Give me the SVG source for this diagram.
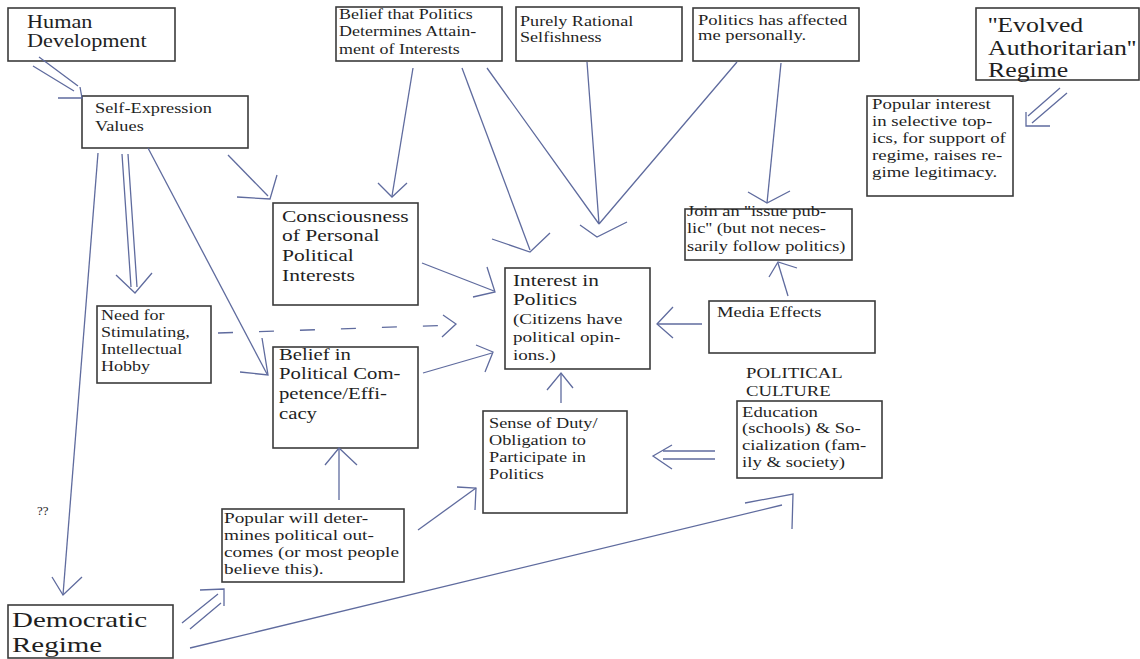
<svg xmlns="http://www.w3.org/2000/svg" width="1140" height="659" viewBox="0 0 1140 659">
<style>
.box{fill:#fff;stroke:#3b3b3b;stroke-width:1.6}
.t{font-family:"Liberation Serif","Times New Roman",serif;fill:#1f1f1f}
.ln{stroke:#5f6b9e;stroke-width:1.3;fill:none}
.hd{stroke:#5f6b9e;stroke-width:1.3;fill:none}
.dash{stroke-dasharray:15 26}
</style>
<rect width="1140" height="659" fill="#fff"/>
<g id="nodes">
<g id="human-development"><rect class="box" x="8" y="8" width="167" height="53"/>
<text class="t" font-size="19" transform="translate(27 28) scale(1.17 1)"><tspan x="0" y="0">Human</tspan><tspan x="0" y="19.5">Development</tspan></text></g>
<g id="self-expression"><rect class="box" x="82" y="96" width="166" height="52"/>
<text class="t" font-size="15" transform="translate(95 113) scale(1.22 1)"><tspan x="0" y="0">Self-Expression</tspan><tspan x="0" y="18.5">Values</tspan></text></g>
<g id="belief-politics"><rect class="box" x="336" y="7" width="166" height="54"/>
<text class="t" font-size="14.5" transform="translate(339 19) scale(1.24 1)"><tspan x="0" y="0">Belief that Politics</tspan><tspan x="0" y="17.5">Determines Attain-</tspan><tspan x="0" y="35">ment of Interests</tspan></text></g>
<g id="rational-selfishness"><rect class="box" x="516" y="7" width="166" height="54"/>
<text class="t" font-size="15" transform="translate(520 26) scale(1.21 1)"><tspan x="0" y="0">Purely Rational</tspan><tspan x="0" y="15.7">Selfishness</tspan></text></g>
<g id="politics-affected"><rect class="box" x="693" y="8" width="166" height="53"/>
<text class="t" font-size="15" transform="translate(698 25) scale(1.24 1)"><tspan x="0" y="0">Politics has affected</tspan><tspan x="0" y="15.5">me personally.</tspan></text></g>
<g id="evolved-authoritarian"><rect class="box" x="976" y="8" width="163" height="72"/>
<text class="t" font-size="20" transform="translate(988 32) scale(1.29 1)"><tspan x="0" y="0">''Evolved</tspan><tspan x="0" y="23">Authoritarian''</tspan><tspan x="0" y="45">Regime</tspan></text></g>
<g id="popular-interest"><rect class="box" x="867" y="96" width="146" height="100"/>
<text class="t" font-size="14.5" transform="translate(872 109) scale(1.3 1)"><tspan x="0" y="0">Popular interest</tspan><tspan x="0" y="17">in selective top-</tspan><tspan x="0" y="34">ics, for support of</tspan><tspan x="0" y="51">regime, raises re-</tspan><tspan x="0" y="68">gime legitimacy.</tspan></text></g>
<g id="consciousness"><rect class="box" x="273" y="203" width="145" height="102"/>
<text class="t" font-size="17.5" transform="translate(282 222) scale(1.23 1)"><tspan x="0" y="0">Consciousness</tspan><tspan x="0" y="19.5">of Personal</tspan><tspan x="0" y="39">Political</tspan><tspan x="0" y="59">Interests</tspan></text></g>
<g id="need-stimulating"><rect class="box" x="97" y="306" width="114" height="77"/>
<text class="t" font-size="14" transform="translate(101 320) scale(1.29 1)"><tspan x="0" y="0">Need for</tspan><tspan x="0" y="17">Stimulating,</tspan><tspan x="0" y="34">Intellectual</tspan><tspan x="0" y="51">Hobby</tspan></text></g>
<g id="belief-competence"><rect class="box" x="273" y="347" width="145" height="101"/>
<text class="t" font-size="17" transform="translate(279 360) scale(1.22 1)"><tspan x="0" y="0">Belief in</tspan><tspan x="0" y="19.5">Political Com-</tspan><tspan x="0" y="39.5">petence/Effi-</tspan><tspan x="0" y="59.5">cacy</tspan></text></g>
<g id="interest-in-politics"><rect class="box" x="505" y="268" width="145" height="101"/>
<text class="t" transform="translate(513 286) scale(1.27 1)"><tspan x="0" y="0" font-size="16.8">Interest in</tspan><tspan x="0" y="19" font-size="16.8">Politics</tspan><tspan x="0" y="38" font-size="15">(Citizens have</tspan><tspan x="0" y="55.7" font-size="15">political opin-</tspan><tspan x="0" y="74" font-size="15">ions.)</tspan></text></g>
<g id="issue-public"><rect class="box" x="685" y="209" width="167" height="51"/>
<text class="t" font-size="14.5" transform="translate(687 216) scale(1.27 1)"><tspan x="0" y="0">Join an ''issue pub-</tspan><tspan x="0" y="17.5">lic'' (but not neces-</tspan><tspan x="0" y="35.5">sarily follow politics)</tspan></text></g>
<g id="media-effects"><rect class="box" x="709" y="301" width="166" height="52"/>
<text class="t" font-size="15" transform="translate(717 317) scale(1.24 1)"><tspan x="0" y="0">Media Effects</tspan></text></g>
<g id="political-culture">
<text class="t" font-size="15" transform="translate(746 378) scale(1.25 1)"><tspan x="0" y="0">POLITICAL</tspan><tspan x="0" y="18">CULTURE</tspan></text>
<rect class="box" x="737" y="401" width="145" height="77"/>
<text class="t" font-size="15" transform="translate(742 416.5) scale(1.25 1)"><tspan x="0" y="0">Education</tspan><tspan x="0" y="17">(schools) &amp; So-</tspan><tspan x="0" y="34">cialization (fam-</tspan><tspan x="0" y="51">ily &amp; society)</tspan></text></g>
<g id="sense-of-duty"><rect class="box" x="483" y="411" width="144" height="102"/>
<text class="t" font-size="14.5" transform="translate(489 428) scale(1.26 1)"><tspan x="0" y="0">Sense of Duty/</tspan><tspan x="0" y="17">Obligation to</tspan><tspan x="0" y="34">Participate in</tspan><tspan x="0" y="51">Politics</tspan></text></g>
<g id="popular-will"><rect class="box" x="222" y="509" width="182" height="73"/>
<text class="t" font-size="14.5" transform="translate(224 523) scale(1.33 1)"><tspan x="0" y="0">Popular will deter-</tspan><tspan x="0" y="17.5">mines political out-</tspan><tspan x="0" y="34.5">comes (or most people</tspan><tspan x="0" y="51">believe this).</tspan></text></g>
<g id="democratic-regime"><rect class="box" x="8" y="605" width="165" height="53"/>
<text class="t" font-size="20" transform="translate(12 627) scale(1.45 1)"><tspan x="0" y="0">Democratic</tspan><tspan x="0" y="25">Regime</tspan></text></g>
</g>
<g id="connectors">
<g id="e-hd-sev"><path class="ln" d="M39,57 L78,86 M33,66 L74,91"/><polyline class="hd" points="80,87 82,98 58,98"/></g>
<g id="e-sev-cppi"><path class="ln" d="M228,155 L268,196"/><polyline class="hd" points="277,175 270,199 237,197"/></g>
<g id="e-sev-dr"><path class="ln" d="M98,153 L63,595"/><polyline class="hd" points="52,577 63,595 82,577"/></g>
<text class="t" font-size="13" x="37" y="515">??</text>
<g id="e-sev-need"><path class="ln" d="M122,154 L131,287 M128,154 L137,287"/><polyline class="hd" points="116,275 135,293 152,273"/></g>
<g id="e-sev-bpc"><path class="ln" d="M148,148 L267,374"/><polyline class="hd" points="262,338 268,375 240,372"/></g>
<g id="e-need-ip"><path class="ln dash" d="M218,333 L455,325"/><polyline class="hd" points="443,315 456,324 442,337"/></g>
<g id="e-cppi-ip"><path class="ln" d="M422,263 L494,291"/><polyline class="hd" points="487,267 495,292 473,297"/></g>
<g id="e-bpc-ip"><path class="ln" d="M423,373 L492,353"/><polyline class="hd" points="476,345 493,352 485,372"/></g>
<g id="e-btp-cppi"><path class="ln" d="M413,68 L392,196"/><polyline class="hd" points="378,183 392,197 407,183"/></g>
<g id="e-btp-ip"><path class="ln" d="M462,68 L530,250"/><polyline class="hd" points="492,239 530,252 550,233"/></g>
<g id="e-converge"><path class="ln" d="M487,68 L599,224 M587,62 L599,224 M737,62 L599,224"/><polyline class="hd" points="580,225 597,237 627,222"/></g>
<g id="e-pham-join"><path class="ln" d="M781,63 L767,203"/><polyline class="hd" points="748,192 767,203 790,191"/></g>
<g id="e-media-join"><path class="ln" d="M788,296 L778,263"/><polyline class="hd" points="769,277 778,262 797,268"/></g>
<g id="e-media-ip"><path class="ln" d="M702,324 L657,324"/><polyline class="hd" points="673,307 657,324 673,338"/></g>
<g id="e-duty-ip"><path class="ln" d="M561,403 L561,373"/><polyline class="hd" points="547,390 561,373 573,388"/></g>
<g id="e-edu-duty"><path class="ln" d="M715,451 L663,451 M715,459 L663,459"/><polyline class="hd" points="672,445 653,456 672,469"/></g>
<g id="e-pw-bpc"><path class="ln" d="M339,500 L339,448"/><polyline class="hd" points="325,465 339,448 357,465"/></g>
<g id="e-pw-duty"><path class="ln" d="M418,530 L476,488"/><polyline class="hd" points="457,487 476,488 475,510"/></g>
<g id="e-dr-pw"><path class="ln" d="M182,623 L218,594 M190,629 L221,603"/><polyline class="hd" points="200,590 224,589 224,606"/></g>
<g id="e-dr-edu"><path class="ln" d="M190,648 L782,505"/><polyline class="hd" points="745,503 793,494 792,529"/></g>
<g id="e-ear-pi"><path class="ln" d="M1067,93 L1032,123 M1060,88 L1028,116"/><polyline class="hd" points="1026,112 1026,126 1050,126"/></g>
</g>
</svg>
